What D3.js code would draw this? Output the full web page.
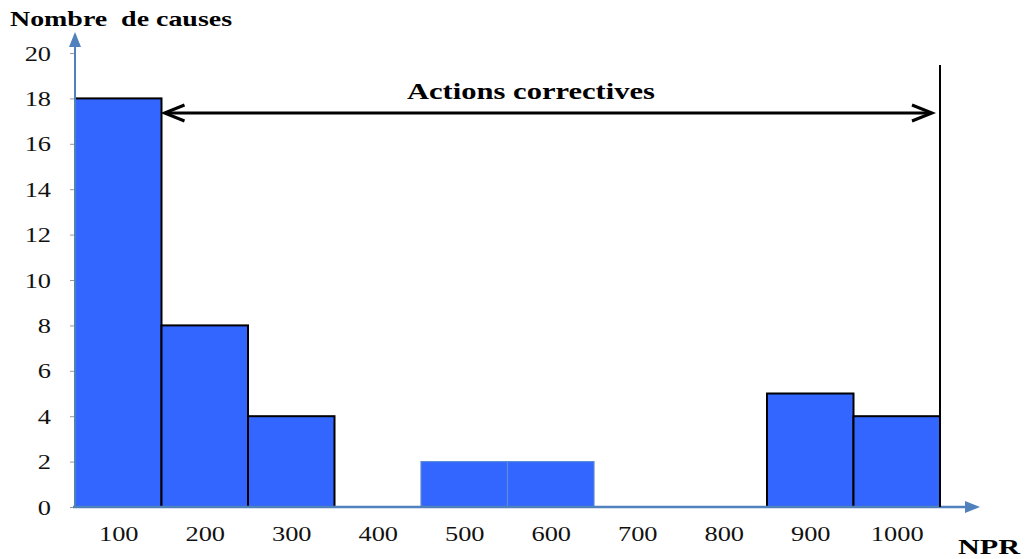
<!DOCTYPE html>
<html>
<head>
<meta charset="utf-8">
<script src="https://cdn.jsdelivr.net/npm/d3@7"></script>
<style>
  body { margin: 0; background: #fff; }
  svg { display: block; }
  text { font-family: "Liberation Serif", "DejaVu Serif", serif; }
</style>
</head>
<body>
<svg id="chart" width="1025" height="559"></svg>
<script>
// ---- Data ----
const categories = [100, 200, 300, 400, 500, 600, 700, 800, 900, 1000];
const counts     = [18, 8, 4, 0, 2, 2, 0, 0, 5, 4];
const yTicks     = [0, 2, 4, 6, 8, 10, 12, 14, 16, 18, 20];
const yTitle     = "Nombre  de causes";
const xTitle     = "NPR";
const annotation = "Actions correctives";

const svg = d3.select("#chart");
const serif = '"Liberation Serif", "DejaVu Serif", serif';
const axisColor = "#4f81bd";
const stretch = 1.2;

const binHalf = 50;
const x = d3.scaleLinear().domain([50, 1050]).range([75, 940]);
const y = d3.scaleLinear().domain([0, 20]).range([507, 53]);

const defs = svg.append("defs");
defs.append("marker").attr("id", "axisArrow")
  .attr("viewBox", "0 0 10 10").attr("refX", 0).attr("refY", 5)
  .attr("markerWidth", 15).attr("markerHeight", 15).attr("markerUnits", "userSpaceOnUse")
  .attr("orient", "auto")
  .append("path").attr("d", "M0,1 L10,5 L0,9 z").attr("fill", axisColor);

// bars
const noOutline = new Set([500, 600]);
const data = categories.map((c, i) => ({ c, v: counts[i] })).filter(d => d.v > 0);
svg.append("g").selectAll("rect").data(data).join("rect")
  .attr("x", d => x(d.c - binHalf))
  .attr("y", d => y(d.v))
  .attr("width", d => x(d.c + binHalf) - x(d.c - binHalf))
  .attr("height", d => y(0) - y(d.v))
  .attr("fill", "#3366ff")
  .attr("stroke", d => noOutline.has(d.c) ? "#5b8ad6" : "#000")
  .attr("stroke-width", d => noOutline.has(d.c) ? 1.2 : 2);

// y axis
const yAxis = d3.axisLeft(y).tickValues(yTicks).tickSize(5).tickPadding(19);
const gy = svg.append("g").attr("transform", `translate(${x(50)},0)`).call(yAxis);
gy.attr("font-family", null);
gy.select(".domain").remove();
gy.selectAll(".tick line").attr("stroke", "#999");
gy.selectAll(".tick text")
  .style("font-family", serif).attr("font-size", 22).attr("fill", "#111")
  .attr("x", -24 / stretch).attr("transform", `scale(${stretch},1)`);
svg.append("line")
  .attr("x1", x(50)).attr("x2", x(50)).attr("y1", y(0) + 1).attr("y2", 47)
  .attr("stroke", axisColor).attr("stroke-width", 2)
  .attr("marker-end", "url(#axisArrow)");

// x axis
const xAxis = d3.axisBottom(x).tickValues(categories).tickSize(0).tickPadding(18)
  .tickFormat(d3.format("d"));
const gx = svg.append("g").attr("transform", `translate(0,${y(0)})`).call(xAxis);
gx.attr("font-family", null);
gx.select(".domain").remove();
gx.selectAll(".tick text")
  .style("font-family", serif).attr("font-size", 22).attr("fill", "#111")
  .attr("transform", `scale(${stretch},1)`);
svg.append("line")
  .attr("x1", x(50) - 2).attr("x2", 965).attr("y1", y(0)).attr("y2", y(0))
  .attr("stroke", axisColor).attr("stroke-width", 2.5)
  .attr("marker-end", "url(#axisArrow)");

// titles
svg.append("text").attr("x", 10).attr("y", 26)
  .style("font-family", serif).attr("font-weight", "bold").attr("font-size", 21)
  .style("white-space", "pre")
  .attr("textLength", 222).attr("lengthAdjust", "spacingAndGlyphs")
  .text(yTitle);
svg.append("text").attr("x", 958).attr("y", 554)
  .style("font-family", serif).attr("font-weight", "bold").attr("font-size", 22)
  .attr("textLength", 62).attr("lengthAdjust", "spacingAndGlyphs")
  .text(xTitle);

// vertical threshold line
svg.append("line")
  .attr("x1", x(1050)).attr("x2", x(1050)).attr("y1", 65).attr("y2", y(0))
  .attr("stroke", "#000").attr("stroke-width", 2);

// double arrow
const ay = 113;
const ax1 = x(150) + 3, ax2 = x(1050) - 8;
svg.append("line").attr("x1", ax1 + 1).attr("x2", ax2 - 1).attr("y1", ay).attr("y2", ay)
  .attr("stroke", "#000").attr("stroke-width", 3);
svg.append("path")
  .attr("d", `M${ax1 + 20},${ay - 8} L${ax1},${ay} L${ax1 + 20},${ay + 8}`)
  .attr("fill", "none").attr("stroke", "#000").attr("stroke-width", 3);
svg.append("path")
  .attr("d", `M${ax2 - 20},${ay - 8} L${ax2},${ay} L${ax2 - 20},${ay + 8}`)
  .attr("fill", "none").attr("stroke", "#000").attr("stroke-width", 3);
svg.append("text").attr("x", 407).attr("y", 99)
  .style("font-family", serif).attr("font-weight", "bold").attr("font-size", 23)
  .attr("textLength", 248).attr("lengthAdjust", "spacingAndGlyphs")
  .text(annotation);
</script>
</body>
</html>
